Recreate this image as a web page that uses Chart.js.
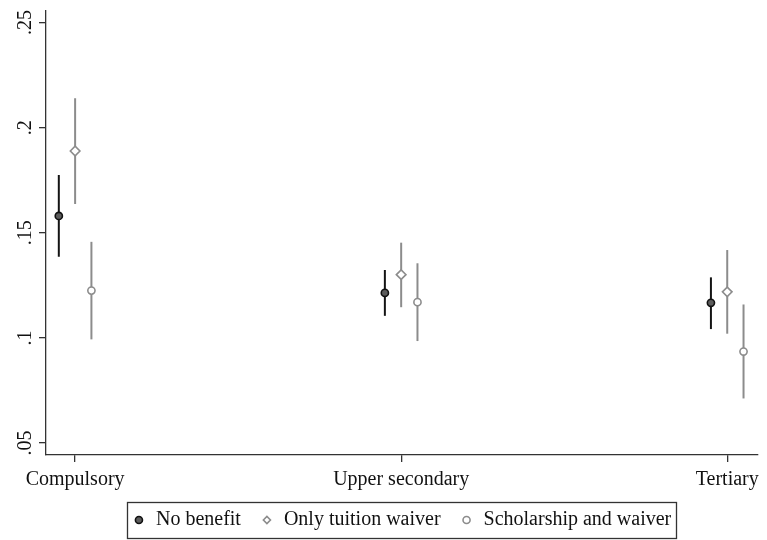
<!DOCTYPE html>
<html>
<head>
<meta charset="utf-8">
<script src="https://cdn.jsdelivr.net/npm/chart.js@4.4.1/dist/chart.umd.min.js"></script>
<style>
    body { margin: 0; background: #fff; }
    #wrap { width: 767px; height: 540px; }
</style>
</head>
<body>
<div id="wrap"><canvas id="chart" width="767" height="540"></canvas></div>
<script>
const categories = ['Compulsory', 'Upper secondary', 'Tertiary'];
const seriesNames = ['No benefit', 'Only tuition waiver', 'Scholarship and waiver'];

// point estimates and 95% bands
const noBenefit = [0.158, 0.1214, 0.1167];
const noBenefitLow = [0.1386, 0.1105, 0.1042];
const noBenefitHigh = [0.1775, 0.1323, 0.1288];

const tuitionOnly = [0.1889, 0.1301, 0.1219];
const tuitionOnlyLow = [0.1637, 0.1146, 0.1020];
const tuitionOnlyHigh = [0.2140, 0.1453, 0.1418];

const scholarship = [0.1225, 0.1170, 0.0935];
const scholarshipLow = [0.0993, 0.0985, 0.0712];
const scholarshipHigh = [0.1457, 0.1355, 0.1159];

const yTicks = [0.05, 0.1, 0.15, 0.2, 0.25];

const dodge = 0.05; // horizontal shift of each series around the category
const FONT = { family: '"Liberation Serif", "Times New Roman", serif', size: 20, lineHeight: 1 };

function points(values, shift) {
    return values.map((v, i) => ({ x: i + 1 + shift, y: v }));
}

// draws the vertical CI lines under the markers
const errorBars = {
    id: 'errorBars',
    beforeDatasetsDraw(chart) {
        const ctx = chart.ctx;
        const xs = chart.scales.x;
        const ys = chart.scales.y;
        chart.data.datasets.forEach(ds => {
            ctx.save();
            ctx.strokeStyle = ds.barColor;
            ctx.lineWidth = 2;
            ds.data.forEach((p, i) => {
                const px = xs.getPixelForValue(p.x);
                ctx.beginPath();
                ctx.moveTo(px, ys.getPixelForValue(ds.low[i]));
                ctx.lineTo(px, ys.getPixelForValue(ds.high[i]));
                ctx.stroke();
            });
            ctx.restore();
        });
    }
};

// Stata-style frame around the legend
const legendFrame = {
    id: 'legendFrame',
    afterDraw(chart) {
        const boxes = chart.legend.legendHitBoxes;
        if (!boxes || !boxes.length) return;
        const left = Math.min(...boxes.map(b => b.left)) - 5;
        const right = Math.max(...boxes.map(b => b.left + b.width)) + 5;
        const cy = boxes[0].top + boxes[0].height / 2;
        const ctx = chart.ctx;
        ctx.save();
        ctx.strokeStyle = '#333';
        ctx.lineWidth = 1.3;
        ctx.strokeRect(Math.round(left) + 0.5, Math.round(cy - 18) + 0.5, Math.round(right - left), 36);
        ctx.restore();
    }
};

new Chart(document.getElementById('chart'), {
    type: 'scatter',
    data: {
        datasets: [
            {
                label: seriesNames[0],
                data: points(noBenefit, -dodge),
                low: noBenefitLow,
                high: noBenefitHigh,
                barColor: '#141414',
                pointStyle: 'circle',
                pointRadius: 3.6,
                pointBorderWidth: 1.6,
                pointBackgroundColor: '#5c5c5c',
                pointBorderColor: '#111',
                backgroundColor: '#5c5c5c',
                borderColor: '#111'
            },
            {
                label: seriesNames[1],
                data: points(tuitionOnly, 0),
                low: tuitionOnlyLow,
                high: tuitionOnlyHigh,
                barColor: '#8c8c8c',
                pointStyle: 'rectRot',
                pointRadius: 4.8,
                pointBorderWidth: 1.6,
                pointBackgroundColor: '#fff',
                pointBorderColor: '#8c8c8c',
                backgroundColor: '#fff',
                borderColor: '#8c8c8c'
            },
            {
                label: seriesNames[2],
                data: points(scholarship, dodge),
                low: scholarshipLow,
                high: scholarshipHigh,
                barColor: '#8c8c8c',
                pointStyle: 'circle',
                pointRadius: 3.6,
                pointBorderWidth: 1.6,
                pointBackgroundColor: '#fff',
                pointBorderColor: '#8c8c8c',
                backgroundColor: '#fff',
                borderColor: '#8c8c8c'
            }
        ]
    },
    options: {
        responsive: false,
        animation: false,
        layout: { padding: { left: 14, right: 5, top: 9, bottom: 0 } },
        scales: {
            x: {
                type: 'linear',
                min: 0.9107,
                max: 3.092,
                afterBuildTicks: scale => {
                    scale.ticks = categories.map((c, i) => ({ value: i + 1 }));
                },
                afterFit: scale => { scale.height = 36; },
                ticks: {
                    color: '#111',
                    font: FONT,
                    padding: 8,
                    maxRotation: 0,
                    callback: v => categories[Math.round(v) - 1]
                },
                grid: {
                    drawOnChartArea: false,
                    drawTicks: true,
                    tickLength: 7,
                    color: '#333',
                    lineWidth: 1.3
                },
                border: { display: true, color: '#333', width: 1.3 }
            },
            y: {
                min: 0.0443,
                max: 0.2555,
                afterBuildTicks: scale => {
                    scale.ticks = yTicks.map(v => ({ value: v }));
                },
                afterFit: scale => { scale.width = 32; },
                ticks: {
                    color: '#111',
                    font: FONT,
                    padding: 1,
                    minRotation: 90,
                    maxRotation: 90,
                    crossAlign: 'center',
                    callback: v => String(+v.toFixed(2)).replace(/^0/, '')
                },
                grid: {
                    drawOnChartArea: false,
                    drawTicks: true,
                    tickLength: 7,
                    color: '#333',
                    lineWidth: 1.3
                },
                border: { display: true, color: '#333', width: 1.3 }
            }
        },
        plugins: {
            tooltip: { enabled: false },
            legend: {
                position: 'bottom',
                fullSize: false,
                labels: {
                    usePointStyle: true,
                    boxWidth: 14,
                    boxHeight: 5,
                    padding: 19,
                    color: '#111',
                    font: FONT
                },
                onClick: function() {}
            }
        }
    },
    plugins: [errorBars, legendFrame]
});
</script>
</body>
</html>
